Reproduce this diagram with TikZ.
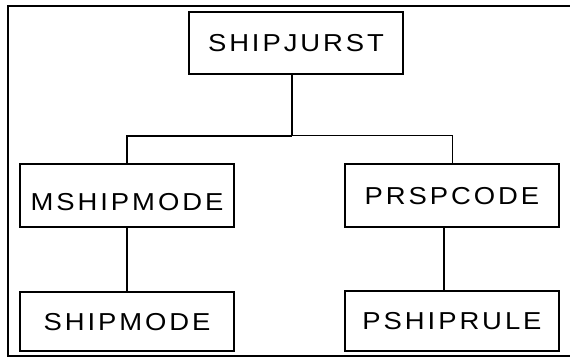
\documentclass[tikz,border=0pt]{standalone}
\usepackage{fontspec}
\newfontfamily\boxfont[FakeStretch=1.12, LetterSpace=12]{Liberation Sans}
\usetikzlibrary{positioning}

\tikzset{
  modbox/.style={draw, line width=1.5pt, minimum width=214pt, minimum height=63pt,
    inner sep=0pt, outer sep=0pt, font=\boxfont\fontsize{24.5}{28}\selectfont,
    text height=17.5pt, text depth=0pt},
  link/.style={line width=1.5pt},
  thinlink/.style={line width=1pt},
  frame/.style={line width=2pt}
}

\begin{document}
\begin{tikzpicture}[x=1pt, y=-1pt]
            \useasboundingbox (0,0) rectangle (570,358);
            \draw[frame] (570,6) -- (8,6) -- (8,356) -- (570,356);

            \node[modbox, minimum height=62pt] (top) at (296,43) {SHIPJURST};
            \node[modbox, text height=30.5pt] (mship) at (127,195.5) {MSHIPMODE};
            \node[modbox] (prsp) at (452,195.5) {PRSPCODE};
            \node[modbox, minimum height=59pt, below=65pt of mship] (shipmode) {SHIPMODE};
            \node[modbox, minimum height=60pt, below=64pt of prsp] (pshiprule) {PSHIPRULE};

            \coordinate (bus) at (292,136);
            \draw[link] ([xshift=-4pt]top.south) -- (bus);
            \draw[link] (mship.north) |- (bus);
            \draw[thinlink] (bus) -| (prsp.north);
            \draw[link] (mship) -- (shipmode);
            \draw[link] ([xshift=-8pt]prsp.south) -- ([xshift=-8pt]pshiprule.north);
        \end{tikzpicture}
\end{document}
